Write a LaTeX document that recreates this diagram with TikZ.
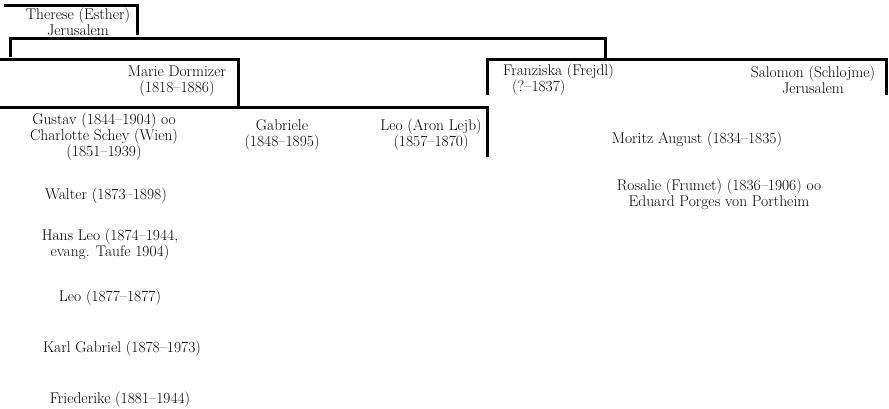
\documentclass[tikz,border=0pt]{standalone}
\begin{document}
\begin{tikzpicture}[x=1pt, y=-1pt,
    bar/.style={line width=3pt},
    person/.style={font=\fontsize{15.5}{16}\selectfont, align=center, inner sep=0pt}]
  \useasboundingbox (0, 0) rectangle (889, 409);
  \draw[bar] (4, 6) -- (137, 6) -- (137, 35);
  \draw[bar] (10, 57) -- (10, 39) -- (605, 39) -- (605, 60);
  \draw[bar] (0, 60) -- (238, 60) -- (238, 108);
  \draw[bar] (0, 108) -- (487, 108) -- (487, 157);
  \draw[bar] (487, 95) -- (487, 60) -- (886, 60) -- (886, 95);
  \node[person] (therese) at (78, 22) {Therese (Esther)\\Jerusalem};
  \node[person] (marie) at (177, 81) {Marie Dormizer\\(1818--1886)};
  \node[person, anchor=west, align=left] (franziska) at (503, 80) {Franziska (Frejdl)\\\hspace*{9pt}(?--1837)};
  \node[person] (salomon) at (813, 80) {Salomon (Schlojme)\\Jerusalem};
  \node[person] (gustav) at (104, 137) {Gustav (1844--1904) oo\\Charlotte Schey (Wien)\\(1851--1939)};
  \node[person] (gabriele) at (282, 135) {Gabriele\\(1848--1895)};
  \node[person] (leo) at (431, 135) {Leo (Aron Lejb)\\(1857--1870)};
  \node[person] (moritz) at (697, 140) {Moritz August (1834--1835)};
  \node[person] (rosalie) at (719, 194) {Rosalie (Frumet) (1836--1906) oo\\Eduard Porges von Portheim};
  \foreach \x/\y/\n/\t in {106/196/walter/{Walter (1873--1898)},
      110/245/hansleo/{Hans Leo (1874--1944,\\evang. Taufe 1904)},
      110/298/leojr/{Leo (1877--1877)},
      122/349/karl/{Karl Gabriel (1878--1973)},
      120/400/friederike/{Friederike (1881--1944)}} {
    \node[person] (\n) at (\x, \y) {\t};
  }
\end{tikzpicture}
\end{document}
